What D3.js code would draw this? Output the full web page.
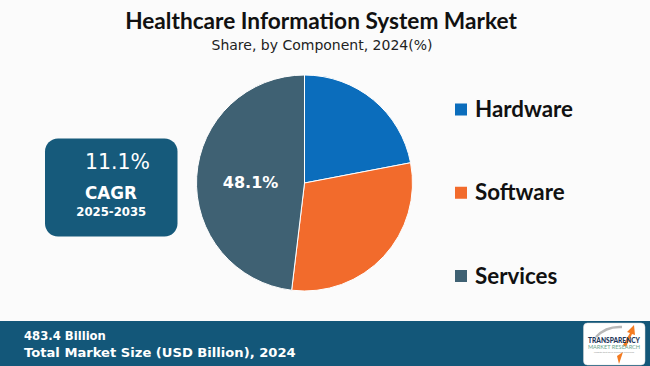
<!DOCTYPE html>
<html>
<head>
<meta charset="utf-8">
<script src="https://cdn.jsdelivr.net/npm/d3@7"></script>
<style>
  html, body { margin: 0; padding: 0; background: #fbfbfb; }
  svg { display: block; }
</style>
</head>
<body>
<svg id="chart" width="650" height="366"></svg>
<script>
// ---- data ----
const categories = ["Hardware", "Software", "Services"];
const shares = [22.0, 29.9, 48.1];
const colors = ["#0B6DBC", "#F26B2C", "#3F6173"];
const labelShown = [false, false, true];
const titleText = "Healthcare Information System Market";
const subtitleText = "Share, by Component, 2024(%)";
const cagrValue = "11.1%";
const cagrLabel = "CAGR";
const cagrPeriod = "2025-2035";
const marketValue = "483.4 Billion";
const marketLabel = "Total Market Size (USD Billion), 2024";

const svg = d3.select("#chart");
const W = 650, H = 366;
const sans = "Lato, 'Open Sans', sans-serif";
const geo = "'DejaVu Sans', 'Noto Sans', sans-serif";

svg.append("rect").attr("width", W).attr("height", H).attr("fill", "#fbfbfb");

// fit text to a target width by adjusting font-size
function fit(sel, width) {
  const w = sel.node().getComputedTextLength();
  const fs = parseFloat(sel.attr("font-size"));
  sel.attr("font-size", (fs * width / w).toFixed(2));
  return sel;
}

// ---- title ----
fit(svg.append("text").attr("x", 321).attr("y", 28.5).attr("text-anchor", "middle")
  .attr("font-family", sans).attr("font-weight", 700).attr("font-size", 22)
  .attr("fill", "#111").text(titleText), 392);
fit(svg.append("text").attr("x", 322).attr("y", 50).attr("text-anchor", "middle")
  .attr("font-family", geo).attr("font-size", 14)
  .attr("fill", "#222").text(subtitleText), 221);

// ---- pie ----
const cx = 304.5, cy = 183, r = 108;
const pie = d3.pie().sort(null).value(d => d.v).startAngle(0).endAngle(2 * Math.PI);
const arc = d3.arc().innerRadius(0).outerRadius(r);
const data = categories.map((c, i) => ({ c, v: shares[i], col: colors[i], show: labelShown[i] }));
const g = svg.append("g").attr("transform", `translate(${cx},${cy})`);
const arcs = pie(data);
g.selectAll("path").data(arcs).join("path")
  .attr("d", arc).attr("fill", d => d.data.col)
  .attr("stroke", "#ffffff").attr("stroke-width", 1);
g.selectAll("text").data(arcs.filter(d => d.data.show)).join("text")
  .attr("x", d => arc.centroid(d)[0])
  .attr("y", d => arc.centroid(d)[1] + 8.5)
  .attr("text-anchor", "middle")
  .attr("font-family", geo).attr("font-weight", 700).attr("font-size", 16)
  .attr("fill", "#fff")
  .text(d => d.data.v.toFixed(1) + "%");

// ---- legend ----
const legY = d3.scalePoint().domain(categories).range([109.5, 276]);
const leg = svg.append("g");
categories.forEach((c, i) => {
  const y = legY(c);
  leg.append("rect").attr("x", 455).attr("y", y - 6).attr("width", 12).attr("height", 12)
    .attr("fill", colors[i]);
  const t = leg.append("text").attr("x", 475).attr("y", y + 7.5)
    .attr("font-family", sans).attr("font-weight", 700).attr("font-size", 22)
    .attr("fill", "#111").text(c);
  if (i === 0) fit(t, 98);
});
const lfs = leg.select("text").attr("font-size");
leg.selectAll("text").attr("font-size", lfs);

// ---- CAGR box ----
svg.append("rect").attr("x", 45).attr("y", 138.5).attr("width", 132.5).attr("height", 98)
  .attr("rx", 13).attr("fill", "#165A7B");
fit(svg.append("text").attr("x", 117.5).attr("y", 169).attr("text-anchor", "middle")
  .attr("font-family", geo).attr("font-size", 24).attr("fill", "#fff").text(cagrValue), 65);
fit(svg.append("text").attr("x", 111).attr("y", 199).attr("text-anchor", "middle")
  .attr("font-family", geo).attr("font-weight", 700).attr("font-size", 16).attr("fill", "#fff").text(cagrLabel), 52);
fit(svg.append("text").attr("x", 111.3).attr("y", 216).attr("text-anchor", "middle")
  .attr("font-family", geo).attr("font-weight", 700).attr("font-size", 13).attr("fill", "#fff").text(cagrPeriod), 70);

// ---- bottom band ----
svg.append("rect").attr("x", 0).attr("y", 321).attr("width", W).attr("height", H - 321)
  .attr("fill", "#135779");
fit(svg.append("text").attr("x", 24).attr("y", 339.5)
  .attr("font-family", geo).attr("font-weight", 700).attr("font-size", 13.5).attr("fill", "#fff").text(marketValue), 82);
fit(svg.append("text").attr("x", 24).attr("y", 357)
  .attr("font-family", geo).attr("font-weight", 700).attr("font-size", 16.5).attr("fill", "#fff").text(marketLabel), 272);

// ---- logo ----
const logo = svg.append("g");
logo.append("rect").attr("x", 583.5).attr("y", 323).attr("width", 61.5).attr("height", 42)
  .attr("rx", 4).attr("fill", "#fff").attr("stroke", "#d8d8d8").attr("stroke-width", 0.5);
logo.append("path").attr("d", "M596,337 Q606,326 622,327").attr("fill", "none")
  .attr("stroke", "#b8b8b8").attr("stroke-width", 2.5);
logo.append("path").attr("d", "M623,345 L630,333 L627,332 L634,325 L635,335 L632,334 L626,347 Z")
  .attr("fill", "#F47B20");
logo.append("path").attr("d", "M617,356 L623,352 L619,364 Z").attr("fill", "#F47B20");
logo.append("text").attr("x", 614).attr("y", 342.5).attr("text-anchor", "middle")
  .attr("font-family", sans).attr("font-weight", 900).attr("font-size", 6.6)
  .attr("fill", "#1d3557").text("TRANSPARENCY");
logo.append("text").attr("x", 614).attr("y", 349).attr("text-anchor", "middle")
  .attr("font-family", sans).attr("font-size", 5.6)
  .attr("fill", "#6aa58c").text("MARKET RESEARCH");
logo.append("text").attr("x", 614).attr("y", 353).attr("text-anchor", "middle")
  .attr("font-family", sans).attr("font-size", 2.5)
  .attr("fill", "#999").text("Insights that drive business decisions");
</script>
</body>
</html>
